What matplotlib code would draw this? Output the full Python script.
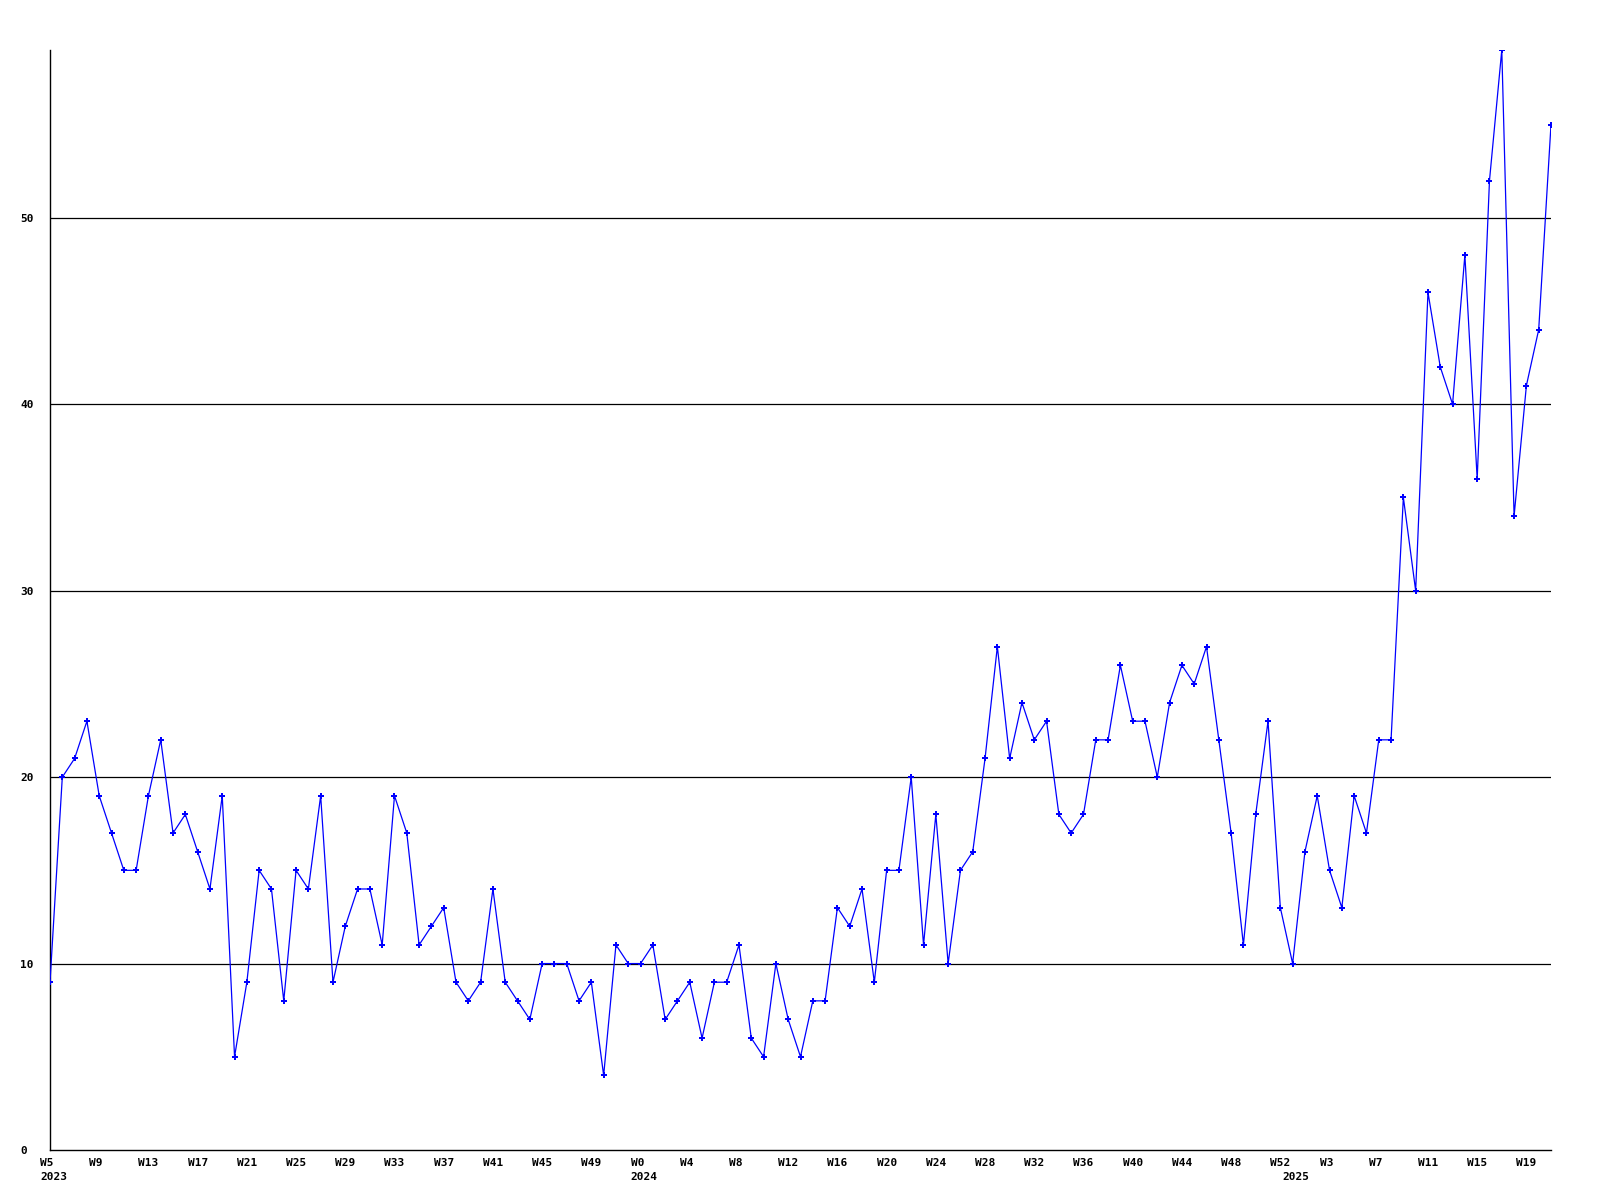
import matplotlib
matplotlib.use("Agg")
import matplotlib.pyplot as plt
from matplotlib.transforms import ScaledTranslation

# weekly counts, one per week from 2023 W5 to 2025 W21
values = [9, 20, 21, 23, 19, 17, 15, 15, 19, 22, 17, 18, 16, 14, 19, 5, 9, 15, 14, 8,
          15, 14, 19, 9, 12, 14, 14, 11, 19, 17, 11,
          12, 13, 9, 8, 9, 14, 9, 8, 7, 10, 10, 10, 8, 9, 4, 11, 10, 10, 11, 7,
          8, 9, 6, 9, 9, 11, 6, 5, 10, 7, 5, 8, 8,
          13, 12, 14, 9, 15, 15, 20, 11, 18, 10, 15, 16, 21, 27, 21, 24, 22, 23, 18, 17,
          18, 22, 22, 26, 23, 23, 20, 24, 26, 25, 27, 22, 17, 11, 18, 23, 13, 10, 16, 19,
          15, 13, 19, 17, 22, 22,
          35, 30, 46, 42, 40, 48, 36, 52, 59, 34, 41, 44, 55]

tick_labels = ["W5", "W9", "W13", "W17", "W21", "W25", "W29", "W33", "W37", "W41",
               "W45", "W49", "W0", "W4", "W8", "W12", "W16", "W20", "W24", "W28",
               "W32", "W36", "W40", "W44", "W48", "W52", "W3", "W7", "W11", "W15", "W19"]
tick_positions = [0, 4, 8, 12, 16, 20, 24, 28, 32, 36, 40, 44, 48, 52, 56, 60, 64, 68,
                  72, 76, 80, 84, 88, 92, 96, 100, 104, 108, 112, 116, 120]
year_labels = ["2023", "2024", "2025"]
year_positions = [0, 48, 101]
y_ticks = [0, 10, 20, 30, 40, 50]

FONT = dict(family="DejaVu Sans Mono", weight="bold", size=8)

fig = plt.figure(figsize=(16, 12), dpi=100)
ax = fig.add_axes([50 / 1600, 50 / 1200, (1551 - 50) / 1600, 1100 / 1200])

x = list(range(len(values)))
ax.plot(x, values, color="#0000FF", linewidth=0.9, marker="P", markersize=4,
        markeredgewidth=0, markerfacecolor="#0000FF", zorder=3)

ax.set_xlim(0, len(values) - 1)
ax.set_ylim(0, 59)

for v in y_ticks[1:]:
    ax.axhline(v, color="black", linewidth=0.9, zorder=1)

for side in ["top", "right"]:
    ax.spines[side].set_visible(False)
for side in ["left", "bottom"]:
    ax.spines[side].set_linewidth(1.0)
    ax.spines[side].set_color("black")

ax.set_xticks(tick_positions, tick_labels)
ax.set_yticks(y_ticks, [str(v) for v in y_ticks])
ax.tick_params(axis="x", length=0, pad=6)
ax.tick_params(axis="y", length=0, pad=0)

for lab in ax.get_xticklabels():
    lab.set_fontproperties(matplotlib.font_manager.FontProperties(**FONT))
    lab.set_ha("left")
    lab.set_transform(lab.get_transform() + ScaledTranslation(-10 / 100, 0, fig.dpi_scale_trans))
for lab in ax.get_yticklabels():
    lab.set_fontproperties(matplotlib.font_manager.FontProperties(**FONT))
    lab.set_ha("left")
    lab.set_transform(lab.get_transform() + ScaledTranslation(-30 / 100, 0, fig.dpi_scale_trans))

for yl, yp in zip(year_labels, year_positions):
    ax.annotate(yl, xy=(yp, 0), xycoords=("data", "axes fraction"),
                xytext=(-10, -22), textcoords="offset pixels",
                ha="left", va="top", **FONT)

fig.savefig("out.png", dpi=100, facecolor="white")
